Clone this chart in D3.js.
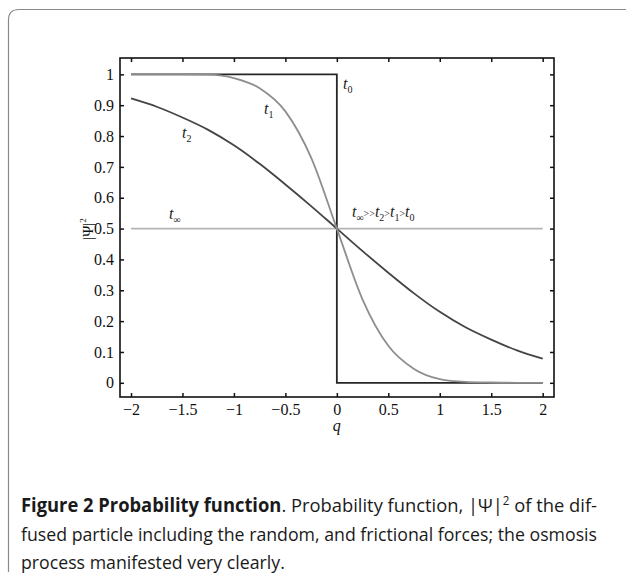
<!DOCTYPE html>
<html>
<head>
<meta charset="utf-8">
<script src="https://cdn.jsdelivr.net/npm/d3@7"></script>
<style>
  body { margin: 0; background: #fff; }
  svg { display: block; }
</style>
</head>
<body>
<div id="chart"></div>
<script>
  // q grid and curves
  var qGrid = [-2, -1.75, -1.5, -1.25, -1, -0.75, -0.5, -0.25, 0, 0.25, 0.5, 0.75, 1, 1.25, 1.5, 1.75, 2];
  var t1Vals = [1, 1, 1, 0.999, 0.988, 0.955, 0.88, 0.73, 0.5, 0.27, 0.12, 0.045, 0.012, 0.003, 0.001, 0, 0];
  var t2Vals = [0.922, 0.895, 0.86, 0.82, 0.77, 0.71, 0.643, 0.573, 0.5, 0.427, 0.357, 0.29, 0.23, 0.18, 0.14, 0.105, 0.078];
  var t0Q = [-2, 0, 0, 2];
  var t0Vals = [1, 1, 0, 0];
  var tInfQ = [-2, 2];
  var tInfVals = [0.5, 0.5];
  var xTicks = [-2, -1.5, -1, -0.5, 0, 0.5, 1, 1.5, 2];
  var yTicks = [0, 0.1, 0.2, 0.3, 0.4, 0.5, 0.6, 0.7, 0.8, 0.9, 1];

  var W = 626, H = 574;
  var box = {left: 120, right: 554, top: 58, bottom: 397};

  var svg = d3.select("#chart").append("svg")
      .attr("width", W).attr("height", H);

  // outer rounded frame
  svg.append("path")
      .attr("d", "M8.5,572 L8.5,20 Q8.5,9.5 19,9.5 L640,9.5")
      .attr("fill", "none").attr("stroke", "#8a8a8a").attr("stroke-width", 1.2);

  var x = d3.scaleLinear().domain([-2.107, 2.11]).range([box.left, box.right]);
  var y = d3.scaleLinear().domain([-0.046, 1.053]).range([box.bottom, box.top]);

  var serif = "'Liberation Serif', 'DejaVu Serif', serif";

  var line = d3.line()
      .x(function(d) { return x(d[0]); })
      .y(function(d) { return y(d[1]); });
  var smooth = d3.line()
      .x(function(d) { return x(d[0]); })
      .y(function(d) { return y(d[1]); })
      .curve(d3.curveMonotoneX);

  var g = svg.append("g");

  g.append("path").datum(d3.zip(t0Q, t0Vals))
      .attr("d", line).attr("fill", "none").attr("stroke", "#262626").attr("stroke-width", 1.8);
  g.append("path").datum(d3.zip(tInfQ, tInfVals))
      .attr("d", line).attr("fill", "none").attr("stroke", "#b4b4b4").attr("stroke-width", 1.8);
  g.append("path").datum(d3.zip(qGrid, t2Vals))
      .attr("d", smooth).attr("fill", "none").attr("stroke", "#444").attr("stroke-width", 1.8);
  g.append("path").datum(d3.zip(qGrid, t1Vals))
      .attr("d", smooth).attr("fill", "none").attr("stroke", "#8e8e8e").attr("stroke-width", 1.8);

  // axes box with inward ticks on all sides
  var bottomAxis = d3.axisBottom(x).tickValues(xTicks).tickSizeInner(-4).tickSizeOuter(0)
      .tickPadding(7).tickFormat(function(d) { return d3.format("")(d).replace("-", "\u2212"); });
  var topAxis = d3.axisTop(x).tickValues(xTicks).tickSizeInner(-4).tickSizeOuter(0).tickFormat("");
  var leftAxis = d3.axisLeft(y).tickValues(yTicks).tickSizeInner(-4).tickSizeOuter(0)
      .tickPadding(6).tickFormat(d3.format(""));
  var rightAxis = d3.axisRight(y).tickValues(yTicks).tickSizeInner(-4).tickSizeOuter(0).tickFormat("");

  function styleAxis(sel) {
    sel.select(".domain").remove();
    sel.selectAll("line").attr("stroke", "#111").attr("stroke-width", 1.5);
    sel.selectAll("text").attr("font-family", serif).attr("font-size", 16).attr("fill", "#111");
  }
  svg.append("g").attr("transform", "translate(0," + box.bottom + ")").call(bottomAxis).call(styleAxis);
  svg.append("g").attr("transform", "translate(0," + box.top + ")").call(topAxis).call(styleAxis);
  svg.append("g").attr("transform", "translate(" + box.left + ",0)").call(leftAxis).call(styleAxis);
  svg.append("g").attr("transform", "translate(" + box.right + ",0)").call(rightAxis).call(styleAxis);

  svg.append("rect")
      .attr("x", box.left).attr("y", box.top)
      .attr("width", box.right - box.left).attr("height", box.bottom - box.top)
      .attr("fill", "none").attr("stroke", "#111").attr("stroke-width", 1.6);

  // axis titles
  svg.append("text").attr("x", x(0)).attr("y", 431)
      .attr("text-anchor", "middle").attr("font-family", serif).attr("font-style", "italic")
      .attr("font-size", 16).attr("fill", "#111").text("q");

  var yl = svg.append("text").attr("transform", "translate(93,229) rotate(-90)")
      .attr("text-anchor", "middle").attr("font-family", serif).attr("font-size", 15).attr("fill", "#111");
  yl.append("tspan").text("|\u03A8|");
  yl.append("tspan").attr("font-size", 9).attr("dy", -7).text("2");

  // curve labels
  function tLabel(px, py, sub) {
    var t = svg.append("text").attr("x", px).attr("y", py)
        .attr("font-family", serif).attr("font-style", "italic").attr("font-size", 16).attr("fill", "#222");
    t.append("tspan").text("t");
    t.append("tspan").attr("font-size", 10).attr("font-style", "normal").attr("dy", 4).text(sub);
    return t;
  }
  tLabel(343, 89, "0");
  tLabel(264, 114, "1");
  tLabel(182, 138, "2");
  tLabel(169, 219, "\u221E");

  var ineq = svg.append("text").attr("x", 352).attr("y", 217)
      .attr("font-family", serif).attr("font-style", "italic").attr("font-size", 16).attr("fill", "#222");
  [["\u221E", ">>"], ["2", ">"], ["1", ">"], ["0", ""]].forEach(function(p) {
    ineq.append("tspan").text("t");
    ineq.append("tspan").attr("font-size", 10).attr("font-style", "normal").attr("dy", 4).text(p[0]);
    if (p[1]) ineq.append("tspan").attr("font-size", 10).attr("font-style", "normal").attr("dy", -4).text(p[1]);
  });

  // caption: squeeze every line by the same factor as the second one
  var sans = "'Open Sans', 'Noto Sans', sans-serif";
  var cap1 = svg.append("text").attr("x", 21).attr("y", 512)
      .attr("font-family", sans).attr("font-size", 19).attr("fill", "#1a1a1a");
  cap1.append("tspan").attr("font-weight", "bold").text("Figure 2 Probability function");
  cap1.append("tspan").text(". Probability function, |\u03A8|");
  cap1.append("tspan").attr("font-size", 12).attr("dy", -7).text("2");
  cap1.append("tspan").attr("dy", 7).text(" of the dif-");

  var cap2 = svg.append("text").attr("x", 21).attr("y", 541)
      .attr("font-family", sans).attr("font-size", 19).attr("fill", "#1a1a1a")
      .text("fused particle including the random, and frictional forces; the osmosis");
  var cap3 = svg.append("text").attr("x", 21).attr("y", 569)
      .attr("font-family", sans).attr("font-size", 19).attr("fill", "#1a1a1a")
      .text("process manifested very clearly.");

  var k = 576 / cap2.node().getComputedTextLength();
  [cap1, cap2, cap3].forEach(function(c) {
    c.attr("textLength", c.node().getComputedTextLength() * k)
     .attr("lengthAdjust", "spacingAndGlyphs");
  });
  cap1.attr("textLength", 576);
</script>
</body>
</html>
